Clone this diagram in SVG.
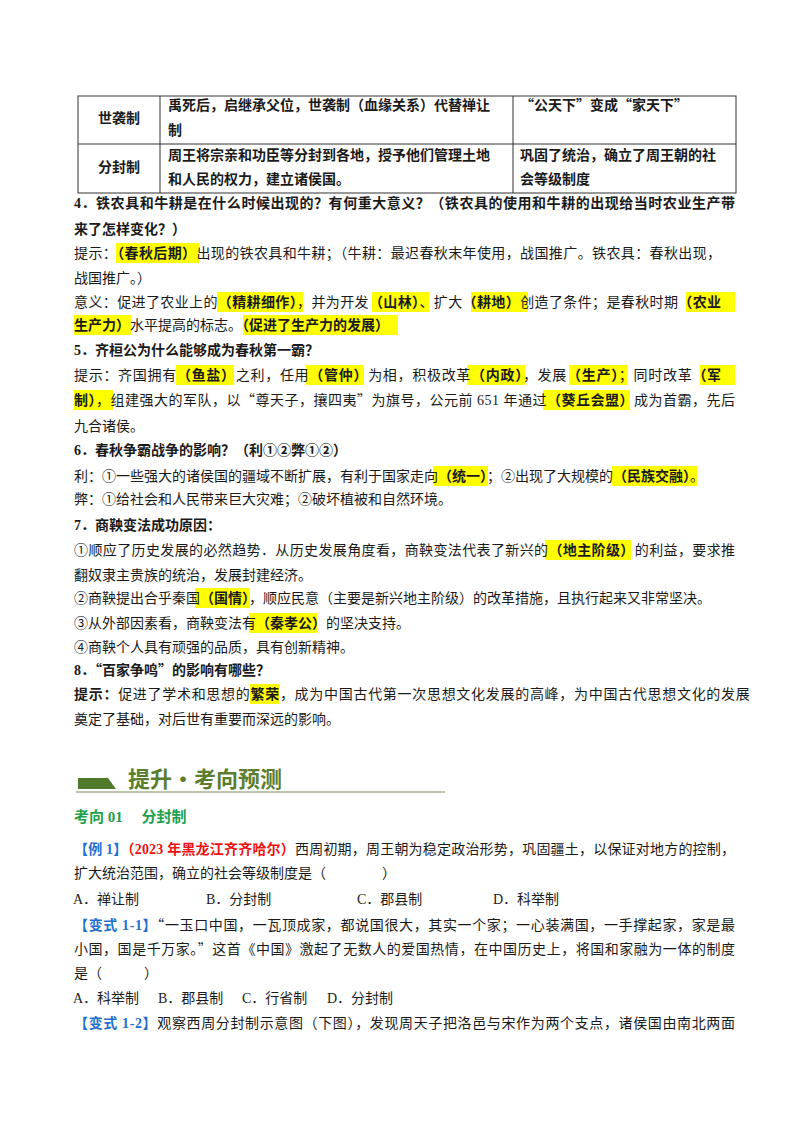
<svg xmlns="http://www.w3.org/2000/svg" width="800" height="1132" viewBox="0 0 800 1132">
<style>
text{font-family:"Liberation Serif","Noto Sans CJK SC",serif;font-size:14px;fill:#1a1a1a}
.b{font-weight:bold}
.q{font-family:"Noto Sans CJK SC",sans-serif}
.hl{fill:#ffff00}
.tb{fill:none;stroke:#333;stroke-width:1}
.j46{letter-spacing:0.378px}
.j45{letter-spacing:0.705px}
</style>
<rect width="800" height="1132" fill="#fff"/>
<g id="table">
<rect class="tb" x="78" y="96" width="658" height="97"/>
<line class="tb" x1="78" y1="144" x2="736" y2="144"/>
<line class="tb" x1="160" y1="96" x2="160" y2="193"/>
<line class="tb" x1="513" y1="96" x2="513" y2="193"/>
<text class="b" x="119" y="123" text-anchor="middle">世袭制</text>
<text class="b" x="168" y="110">禹死后，启继承父位，世袭制（血缘关系）代替禅让</text>
<text class="b" x="168" y="135">制</text>
<text class="b" x="520" y="110"><tspan class="q">“</tspan>公天下<tspan class="q">”</tspan>变成<tspan class="q">“</tspan>家天下<tspan class="q">”</tspan></text>
<text class="b" x="119" y="172" text-anchor="middle">分封制</text>
<text class="b" x="168" y="160">周王将宗亲和功臣等分封到各地，授予他们管理土地</text>
<text class="b" x="168" y="184">和人民的权力，建立诸侯国。</text>
<text class="b" x="520" y="160">巩固了统治，确立了周王朝的社</text>
<text class="b" x="520" y="184">会等级制度</text>
</g>
<g id="highlights">
<rect class="hl" x="116" y="243" width="83" height="20"/>
<rect class="hl" x="217" y="292" width="86" height="20"/>
<rect class="hl" x="372" y="292" width="57" height="20"/>
<rect class="hl" x="471" y="292" width="57" height="20"/>
<rect class="hl" x="686" y="292" width="49" height="20"/>
<rect class="hl" x="74" y="315" width="57" height="20"/>
<rect class="hl" x="243" y="315" width="155" height="20"/>
<rect class="hl" x="176" y="365" width="58" height="20"/>
<rect class="hl" x="306" y="365" width="58" height="20"/>
<rect class="hl" x="467" y="365" width="58" height="20"/>
<rect class="hl" x="569" y="365" width="58" height="20"/>
<rect class="hl" x="700" y="365" width="35" height="20"/>
<rect class="hl" x="74" y="390" width="39" height="20"/>
<rect class="hl" x="543" y="390" width="87" height="20"/>
<rect class="hl" x="433" y="466" width="55" height="20"/>
<rect class="hl" x="612" y="466" width="85" height="20"/>
<rect class="hl" x="545" y="540" width="86" height="20"/>
<rect class="hl" x="195" y="588" width="55" height="20"/>
<rect class="hl" x="249" y="613" width="68" height="20"/>
<rect class="hl" x="250" y="684" width="29" height="20"/>
</g>
<g id="body">
<text class="b" x="74" y="208" textLength="661" lengthAdjust="spacing">4．铁农具和牛耕是在什么时候出现的？有何重大意义？（铁农具的使用和牛耕的出现给当时农业生产带</text>
<text class="b" x="74" y="234">来了怎样变化？）</text>
<text class="j46" x="74" y="258">提示：<tspan class="b">（春秋后期）</tspan>出现的铁农具和牛耕；（牛耕：最迟春秋末年使用，战国推广。铁农具：春秋出现，</text>
<text x="74" y="283">战国推广。）</text>
<text class="j46" x="74" y="307">意义：促进了农业上的<tspan class="b">（精耕细作）</tspan>，并为开发<tspan class="b">（山林）</tspan>、扩大<tspan class="b">（耕地）</tspan>创造了条件；是春秋时期<tspan class="b">（农业</tspan></text>
<text x="74" y="330"><tspan class="b">生产力）</tspan>水平提高的标志。<tspan class="b">（促进了生产力的发展）</tspan></text>
<text class="b" x="74" y="355">5．齐桓公为什么能够成为春秋第一霸？</text>
<text class="j45" x="74" y="380">提示：齐国拥有<tspan class="b">（鱼盐）</tspan>之利，任用<tspan class="b">（管仲）</tspan>为相，积极改革<tspan class="b">（内政）</tspan>，发展<tspan class="b">（生产）</tspan>；同时改革<tspan class="b">（军</tspan></text>
<text x="74" y="405" textLength="661" lengthAdjust="spacing"><tspan class="b">制）</tspan>，组建强大的军队，以<tspan class="q">“</tspan>尊天子，攘四夷<tspan class="q">”</tspan>为旗号，公元前 651 年通过<tspan class="b">（葵丘会盟）</tspan>成为首霸，先后</text>
<text x="74" y="431">九合诸侯。</text>
<text class="b" x="74" y="455">6．春秋争霸战争的影响？（利①②弊①②）</text>
<text x="74" y="481">利：①一些强大的诸侯国的疆域不断扩展，有利于国家走向<tspan class="b">（统一）</tspan>；②出现了大规模的<tspan class="b">（民族交融）</tspan>。</text>
<text x="74" y="504">弊：①给社会和人民带来巨大灾难；②破坏植被和自然环境。</text>
<text class="b" x="74" y="530">7．商鞅变法成功原因：</text>
<text class="j46" x="74" y="555">①顺应了历史发展的必然趋势．从历史发展角度看，商鞅变法代表了新兴的<tspan class="b">（地主阶级）</tspan>的利益，要求推</text>
<text x="74" y="580">翻奴隶主贵族的统治，发展封建经济。</text>
<text x="74" y="603">②商鞅提出合乎秦国<tspan class="b">（国情）</tspan>，顺应民意（主要是新兴地主阶级）的改革措施，且执行起来又非常坚决。</text>
<text x="74" y="628">③从外部因素看，商鞅变法有<tspan class="b">（秦孝公）</tspan>的坚决支持。</text>
<text x="74" y="652">④商鞅个人具有顽强的品质，具有创新精神。</text>
<text class="b" x="74" y="675">8．<tspan class="q">“</tspan>百家争鸣<tspan class="q">”</tspan>的影响有哪些？</text>
<text class="j45" x="74" y="699"><tspan class="b">提示：</tspan>促进了学术和思想的<tspan class="b">繁荣</tspan>，成为中国古代第一次思想文化发展的高峰，为中国古代思想文化的发展</text>
<text x="74" y="724">奠定了基础，对后世有重要而深远的影响。</text>
</g>
<g id="section-header">
<polygon points="78,778 108,778 116,789 78,789" fill="#4f7a2a"/>
<text x="128" y="787" style="font-family:'Noto Sans CJK SC',sans-serif;font-size:22px;font-weight:bold;fill:#5a7d2e">提升·考向预测</text>
<line x1="76" y1="792" x2="445" y2="792" stroke="#a6b394" stroke-width="1.5"/>
<text class="b" x="74" y="822" style="fill:#1ea04c;font-size:15px">考向 01　 分封制</text>
</g>
<g id="questions">
<text x="74" y="854" textLength="661" lengthAdjust="spacing"><tspan class="b" style="fill:#1f6fd1">【例 1】</tspan><tspan class="b" style="fill:#ee1111">（2023 年黑龙江齐齐哈尔）</tspan>西周初期，周王朝为稳定政治形势，巩固疆土，以保证对地方的控制，</text>
<text x="74" y="878">扩大统治范围，确立的社会等级制度是（　　　　）</text>
<text x="73" y="904">A．禅让制</text>
<text x="206" y="904">B．分封制</text>
<text x="357" y="904">C．郡县制</text>
<text x="493" y="904">D．科举制</text>
<text x="74" y="930" textLength="661" lengthAdjust="spacing"><tspan class="b" style="fill:#1f6fd1">【变式 1-1】</tspan><tspan class="q">“</tspan>一玉口中国，一瓦顶成家，都说国很大，其实一个家；一心装满国，一手撑起家，家是最</text>
<text x="74" y="954" textLength="661" lengthAdjust="spacing">小国，国是千万家。<tspan class="q">”</tspan>这首《中国》激起了无数人的爱国热情，在中国历史上，将国和家融为一体的制度</text>
<text x="74" y="978">是（　　　）</text>
<text x="73" y="1003">A．科举制</text>
<text x="158" y="1003">B．郡县制</text>
<text x="242" y="1003">C．行省制</text>
<text x="327" y="1003">D．分封制</text>
<text x="74" y="1028" textLength="661" lengthAdjust="spacing"><tspan class="b" style="fill:#1f6fd1">【变式 1-2】</tspan>观察西周分封制示意图（下图），发现周天子把洛邑与宋作为两个支点，诸侯国由南北两面</text>
</g>
</svg>
